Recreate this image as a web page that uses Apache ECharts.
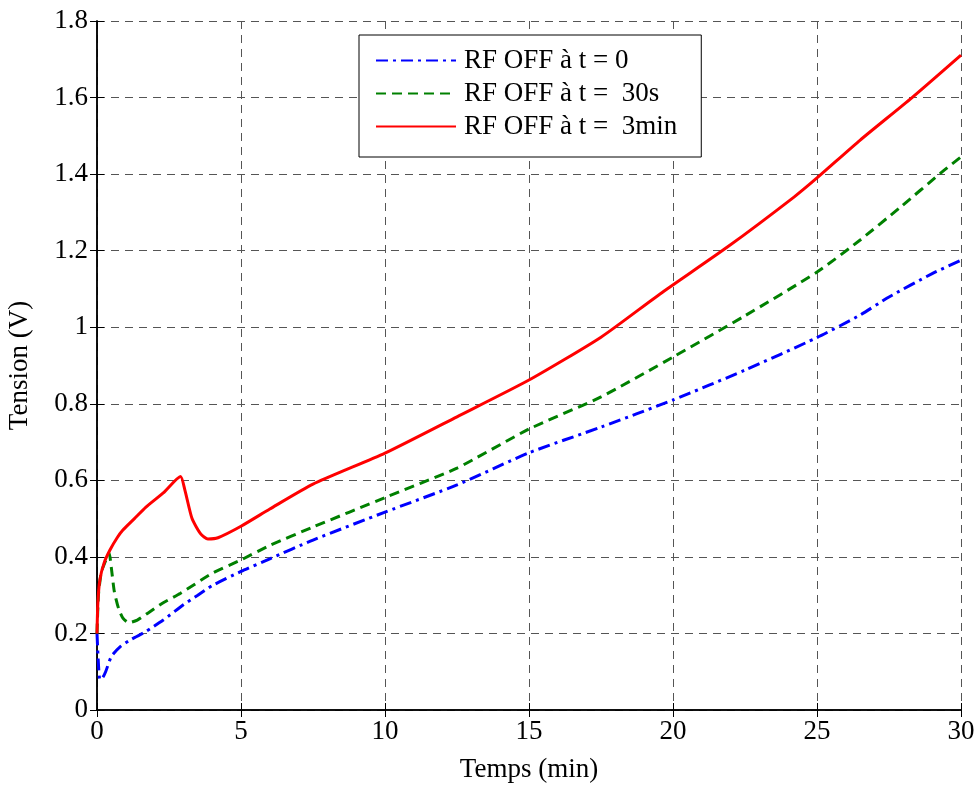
<!DOCTYPE html>
<html>
<head>
<meta charset="utf-8">
<script src="https://cdn.jsdelivr.net/npm/echarts@6/dist/echarts.min.js"></script>
<style>html,body{margin:0;padding:0;background:#fff}#c{width:976px;height:785px}</style>
</head>
<body>
<div id="c"></div>
<script>
const xTicks = [0, 5, 10, 15, 20, 25, 30];
const yTicks = [0, 0.2, 0.4, 0.6, 0.8, 1.0, 1.2, 1.4, 1.6, 1.8];
const seriesNames = ['RF OFF à t = 0', 'RF OFF à t =  30s', 'RF OFF à t =  3min'];

const blueT = [0, 0.05, 0.1, 0.2, 0.3, 0.5, 0.8, 1.2, 1.7, 2.3, 3, 3.5, 4, 5, 6, 7.5, 10, 12.5, 15, 17.5, 20, 22.5, 25, 26.5, 27.5, 29, 30];
const blueV = [0.2, 0.12, 0.08, 0.085, 0.1, 0.14, 0.165, 0.185, 0.205, 0.235, 0.275, 0.3, 0.325, 0.362, 0.395, 0.444, 0.517, 0.588, 0.672, 0.739, 0.81, 0.888, 0.973, 1.032, 1.079, 1.14, 1.175];

const greenT = [0, 0.05, 0.15, 0.3, 0.42, 0.5, 0.6, 0.75, 0.9, 1.1, 1.4, 1.8, 2.3, 2.9, 4, 5, 6, 7.5, 10, 12.5, 15, 17.5, 20, 22.5, 25, 26.5, 27.9, 29.3, 30];
const greenV = [0.2, 0.3, 0.36, 0.39, 0.41, 0.37, 0.31, 0.265, 0.24, 0.228, 0.235, 0.255, 0.28, 0.305, 0.357, 0.392, 0.43, 0.478, 0.555, 0.632, 0.734, 0.818, 0.922, 1.03, 1.144, 1.228, 1.314, 1.403, 1.445];

const redT = [0, 0.03, 0.1, 0.25, 0.45, 0.7, 0.9, 1.3, 1.7, 2.3, 2.9, 3.05, 3.3, 3.6, 3.85, 4.2, 5, 6, 7.5, 10, 12.5, 15, 17.5, 19.55, 21.9, 24.2, 25, 26.5, 28.3, 30];
const redV = [0.2, 0.28, 0.34, 0.385, 0.418, 0.45, 0.47, 0.5, 0.53, 0.567, 0.61, 0.575, 0.5, 0.46, 0.447, 0.45, 0.48, 0.525, 0.59, 0.671, 0.766, 0.862, 0.974, 1.087, 1.21, 1.34, 1.39, 1.489, 1.6, 1.711];

const pair = (t, v) => t.map((x, i) => [x, v[i]]);
const FONT = 'Liberation Serif';
const FS = 27;

const chart = echarts.init(document.getElementById('c'), null, {renderer: 'canvas'});
const gridLine = {show: true, lineStyle: {color: '#555', width: 1, type: [8, 6]}};
const axisLine = {show: true, lineStyle: {color: '#000', width: 1.5}};
const tick = {show: true, inside: true, length: 7, lineStyle: {color: '#000'}};

chart.setOption({
  animation: false,
  backgroundColor: '#fff',
  grid: {left: 97, right: 15, top: 21, bottom: 75, containLabel: false, outerBoundsMode: 'none'},
  legend: {
    orient: 'vertical', left: 359, top: 35,
    data: seriesNames,
    backgroundColor: '#fff', borderColor: '#000', borderWidth: 1,
    padding: [12, 24, 17, 16], itemGap: 6, itemWidth: 80, itemHeight: 14,
    itemStyle: {opacity: 0},
    textStyle: {fontFamily: FONT, fontSize: FS, color: '#000', padding: [0, 0, 0, 3]}
  },
  xAxis: [{
    type: 'value', min: 0, max: 30, interval: 5, position: 'bottom',
    name: 'Temps (min)', nameLocation: 'middle', nameGap: 46,
    nameTextStyle: {fontFamily: FONT, fontSize: FS, color: '#000'},
    axisLine, axisTick: tick, splitLine: gridLine,
    axisLabel: {fontFamily: FONT, fontSize: FS, color: '#000', margin: 8,
      formatter: v => xTicks.includes(v) ? String(v) : ''}
  }, {
    type: 'value', min: 0, max: 30, interval: 5, position: 'top',
    axisLine, axisTick: tick, splitLine: {show: false}, axisLabel: {show: false}
  }],
  yAxis: [{
    type: 'value', min: 0, max: 1.8, interval: 0.2, position: 'left',
    name: 'Tension (V)', nameLocation: 'middle', nameGap: 64,
    nameTextStyle: {fontFamily: FONT, fontSize: FS, color: '#000'},
    axisLine, axisTick: tick, splitLine: gridLine,
    axisLabel: {fontFamily: FONT, fontSize: FS, color: '#000', margin: 9,
      formatter: v => {
        const r = Math.round(v * 10) / 10;
        return yTicks.some(t => Math.abs(t - r) < 1e-9) ? String(r) : '';
      }}
  }, {
    type: 'value', min: 0, max: 1.8, interval: 0.2, position: 'right',
    axisLine, axisTick: tick, splitLine: {show: false}, axisLabel: {show: false}
  }],
  series: [{
    name: seriesNames[0], type: 'line', showSymbol: false, symbol: 'none', smooth: 0.2,
    data: pair(blueT, blueV), color: '#0000ff',
    lineStyle: {color: '#0000ff', width: 3, type: [12, 5, 3, 5]}, z: 3
  }, {
    name: seriesNames[1], type: 'line', showSymbol: false, symbol: 'none', smooth: 0.2,
    data: pair(greenT, greenV), color: '#008000',
    lineStyle: {color: '#008000', width: 3, type: [10, 6]}, z: 4
  }, {
    name: seriesNames[2], type: 'line', showSymbol: false, symbol: 'none', smooth: 0.2,
    data: pair(redT, redV), color: '#ff0000',
    lineStyle: {color: '#ff0000', width: 3}, z: 5
  }]
});
</script>
</body>
</html>
